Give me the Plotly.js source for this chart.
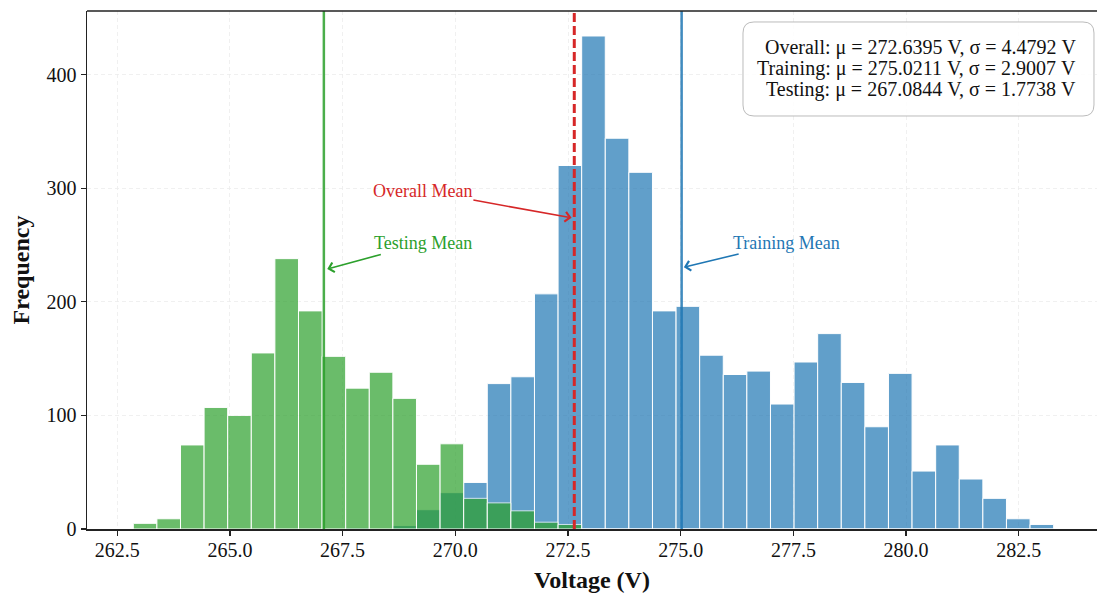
<!DOCTYPE html>
<html>
<head>
<meta charset="utf-8">
<script src="https://cdn.plot.ly/plotly-3.0.1.min.js"></script>
<style>
  html, body { margin: 0; padding: 0; background: #ffffff; }
  #chart { width: 1097px; height: 596px; }
</style>
</head>
<body>
<div id="chart"></div>
<script>
// ---- Data ----
const binStart = 262.857;   // left edge of first bin (V)
const binWidth = 0.5235;    // bin width (V)

const testingCounts = [5, 9, 74, 107, 100, 155, 238, 192, 152, 124,
                       138, 115, 57, 75, 27, 23, 16, 6, 4, 0,
                       0, 0, 0, 0, 0, 0, 0, 0, 0, 0,
                       0, 0, 0, 0, 0, 0, 0, 0, 0];
const trainingCounts = [0, 0, 0, 0, 0, 0, 0, 0, 0, 1,
                        0, 3, 17, 32, 41, 128, 134, 207, 320, 434,
                        344, 314, 192, 196, 153, 136, 139, 110, 147, 172,
                        129, 90, 137, 51, 74, 44, 27, 9, 4];

const overallMean = 272.6395, overallStd = 4.4792;
const trainingMean = 275.0211, trainingStd = 2.9007;
const testingMean = 267.0844, testingStd = 1.7738;

const xTickVals = [262.5, 265.0, 267.5, 270.0, 272.5, 275.0, 277.5, 280.0, 282.5];
const yTickVals = [0, 100, 200, 300, 400];

const statLines = [
  `Overall: μ = ${overallMean.toFixed(4)} V, σ = ${overallStd.toFixed(4)} V`,
  `Training: μ = ${trainingMean.toFixed(4)} V, σ = ${trainingStd.toFixed(4)} V`,
  `Testing: μ = ${testingMean.toFixed(4)} V, σ = ${testingStd.toFixed(4)} V`
];

// ---- Build ----
const centers = testingCounts.map((_, i) => binStart + (i + 0.5) * binWidth);
const FONT = "Liberation Serif, Times New Roman, serif";
const BLUE = "#1f77b4", GREEN = "#2ca02c", RED = "#d62728";

const traces = [
  { type: "bar", x: centers, y: trainingCounts, width: binWidth, name: "Training",
    marker: { color: BLUE, line: { color: "#ffffff", width: 1 } }, opacity: 0.7, hoverinfo: "x+y" },
  { type: "bar", x: centers, y: testingCounts, width: binWidth, name: "Testing",
    marker: { color: GREEN, line: { color: "#ffffff", width: 1 } }, opacity: 0.7, hoverinfo: "x+y" }
];

// legend box geometry in paper coords
const bx0 = 0.6495, bx1 = 0.997, by0 = 0.7973, by1 = 0.9788;
const rx = 11 / 1010, ry = 11 / 518;
const boxPath = `M ${bx0 + rx},${by1} L ${bx1 - rx},${by1} Q ${bx1},${by1} ${bx1},${by1 - ry} ` +
  `L ${bx1},${by0 + ry} Q ${bx1},${by0} ${bx1 - rx},${by0} L ${bx0 + rx},${by0} ` +
  `Q ${bx0},${by0} ${bx0},${by0 + ry} L ${bx0},${by1 - ry} Q ${bx0},${by1} ${bx0 + rx},${by1} Z`;

const shapes = [
  { type: "line", xref: "x", yref: "paper", x0: testingMean, x1: testingMean, y0: 0, y1: 1,
    line: { color: "rgba(44,160,44,0.85)", width: 2.5 }, layer: "above" },
  { type: "line", xref: "x", yref: "paper", x0: trainingMean, x1: trainingMean, y0: 0, y1: 1,
    line: { color: "rgba(31,119,180,0.85)", width: 2.5 }, layer: "above" },
  { type: "line", xref: "x", yref: "paper", x0: overallMean, x1: overallMean, y0: 0, y1: 1,
    line: { color: RED, width: 3, dash: "9px,4px" }, layer: "above" },
  { type: "line", xref: "paper", yref: "paper", x0: 0, x1: 1, y0: 1, y1: 1,
    line: { color: "#222222", width: 1.5 }, layer: "above" },
  { type: "path", xref: "paper", yref: "paper", path: boxPath,
    fillcolor: "rgba(255,255,255,0.85)", line: { color: "#bbbbbb", width: 1 }, layer: "above" }
];

const annotations = [
  { x: 272.58, y: 273.9, ax: 269.27, ay: 297.7, xref: "x", yref: "y", axref: "x", ayref: "y",
    text: "Overall Mean", showarrow: true, arrowhead: 4, arrowsize: 1.2, arrowwidth: 1.6, arrowcolor: RED,
    font: { family: FONT, size: 18, color: RED } },
  { x: 267.16, y: 228.9, ax: 269.29, ay: 251.8, xref: "x", yref: "y", axref: "x", ayref: "y",
    text: "Testing Mean", showarrow: true, arrowhead: 4, arrowsize: 1.2, arrowwidth: 1.6, arrowcolor: GREEN,
    font: { family: FONT, size: 18, color: GREEN } },
  { x: 275.07, y: 230.4, ax: 277.34, ay: 252.2, xref: "x", yref: "y", axref: "x", ayref: "y",
    text: "Training Mean", showarrow: true, arrowhead: 4, arrowsize: 1.2, arrowwidth: 1.6, arrowcolor: BLUE,
    font: { family: FONT, size: 18, color: BLUE } }
];
const statY = [0.9305, 0.8899, 0.8494];
statLines.forEach((t, i) => annotations.push({
  xref: "paper", yref: "paper", x: 0.9812, y: statY[i], xanchor: "right", yanchor: "middle",
  text: t, showarrow: false, font: { family: FONT, size: 20, color: "#111111" }
}));

const layout = {
  width: 1097, height: 596,
  margin: { l: 87, r: 0, t: 11, b: 67 },
  paper_bgcolor: "#ffffff", plot_bgcolor: "#ffffff",
  barmode: "overlay", bargap: 0, showlegend: false,
  font: { family: FONT, size: 20, color: "#111111" },
  xaxis: {
    range: [261.83, 284.235], tickvals: xTickVals, ticktext: xTickVals.map(v => v.toFixed(1)),
    showline: true, linecolor: "#222222", linewidth: 1.5,
    ticks: "outside", ticklen: 5, tickwidth: 1.2, tickcolor: "#222222",
    showgrid: true, gridcolor: "#ececec", griddash: "4px,3px", gridwidth: 0.8,
    zeroline: false, tickfont: { family: FONT, size: 20, color: "#111111" },
    ticklabelstandoff: -3,
    title: { text: "<b>Voltage (V)</b>", font: { family: FONT, size: 24, color: "#111111" }, standoff: 11 }
  },
  yaxis: {
    range: [0, 456], tickvals: yTickVals,
    showline: true, linecolor: "#222222", linewidth: 1.5,
    ticks: "outside", ticklen: 5, tickwidth: 1.2, tickcolor: "#222222",
    showgrid: true, gridcolor: "#ececec", griddash: "4px,3px", gridwidth: 0.8,
    zeroline: false, tickfont: { family: FONT, size: 20, color: "#111111" },
    title: { text: "<b>Frequency</b>", font: { family: FONT, size: 24, color: "#111111" }, standoff: 10 }
  },
  shapes: shapes,
  annotations: annotations
};

Plotly.newPlot("chart", traces, layout, { displayModeBar: false, staticPlot: true });
</script>
</body>
</html>
